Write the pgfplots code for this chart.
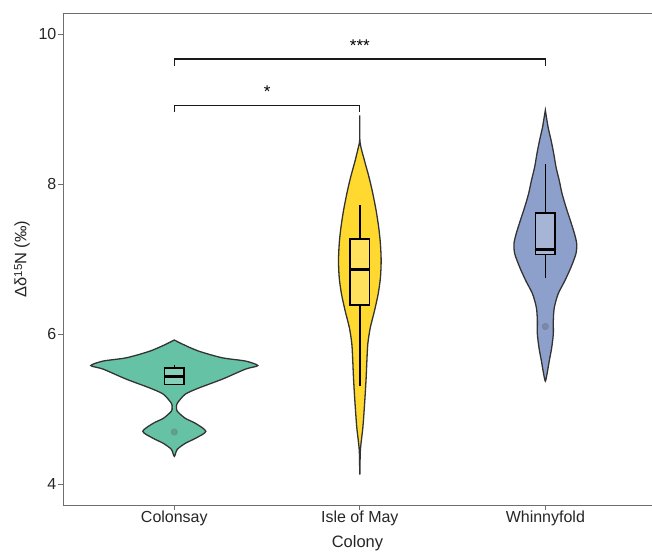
\documentclass[border=0pt]{standalone}
\usepackage{fontspec}
\setmainfont{Liberation Sans}
\usepackage{pgfplots}
\pgfplotsset{compat=1.18}

\definecolor{colgreen}{HTML}{66C2A5}
\definecolor{colyellow}{HTML}{FFD92F}
\definecolor{colblue}{HTML}{8DA0CB}
\definecolor{outline}{HTML}{333333}
\definecolor{frame}{HTML}{6E6E6E}

\begin{document}
\fontsize{16bp}{19bp}\selectfont
\begin{tikzpicture}
\begin{axis}[
  at={(0,0)}, anchor=south west,
  scale only axis,
  width=589bp, height=492bp,
  xmin=0.4, xmax=3.575,
  ymin=3.72, ymax=10.28,
  xtick={1,2,3},
  xticklabels={Colonsay, Isle of May, Whinnyfold},
  ytick={4,6,8,10},
  tick pos=left,
  tick align=outside,
  major tick length=5bp,
  every tick/.style={draw=frame, line width=0.8bp},
  axis line style={draw=frame, line width=0.9bp},
  /pgf/number format/assume math mode=true,
  ticklabel style={font=\fontsize{16bp}{19bp}\selectfont, text=black!85},
  yticklabel style={anchor=east, inner sep=0bp, xshift=-1.5bp},
  xticklabel style={anchor=base, inner sep=0bp, yshift=-12bp},
  xlabel={Colony},
  ylabel={Δδ\raisebox{0.5ex}{\fontsize{11.5bp}{12bp}\selectfont 15}N (‰)},
  label style={font=\fontsize{16.5bp}{19bp}\selectfont, text=black!85},
  xlabel style={at={(axis description cs:0.5,0)}, anchor=center, yshift=-38bp},
  ylabel style={at={(axis description cs:-0.0696,0.5)}, anchor=center},
  clip=false,
]

% violin outlines: half-width about each colony position
\addplot[smooth, tension=0.45, fill=colgreen, draw=outline, line width=1.3bp] coordinates {
  (1,5.920) (1.043,5.866) (1.130,5.773) (1.258,5.683) (1.384,5.639) (1.450,5.579)
  (1.384,5.532) (1.259,5.398) (1.130,5.278) (1.059,5.197) (1.016,5.077) (1.012,5.023)
  (1.016,4.970) (1.059,4.876) (1.114,4.809) (1.170,4.702) (1.114,4.609) (1.059,4.542)
  (1.016,4.462) (1,4.368)
  (0.984,4.462) (0.941,4.542) (0.886,4.609) (0.830,4.702) (0.886,4.809) (0.941,4.876)
  (0.984,4.970) (0.988,5.023) (0.984,5.077) (0.941,5.197) (0.870,5.278) (0.741,5.398)
  (0.616,5.532) (0.550,5.579) (0.616,5.639) (0.742,5.683) (0.870,5.773) (0.957,5.866)
} -- cycle;

\addplot[smooth, tension=0.45, fill=colyellow, draw=outline, line width=1.3bp] coordinates {
  (2,8.916) (2.001,8.560) (2.025,8.314) (2.050,8.087) (2.070,7.873) (2.088,7.645)
  (2.102,7.418) (2.111,7.204) (2.115,6.977) (2.111,6.749) (2.099,6.535) (2.079,6.308)
  (2.056,6.080) (2.043,5.866) (2.038,5.639) (2.034,5.411) (2.029,5.197) (2.023,4.970)
  (2.016,4.743) (2.003,4.450) (2,4.127)
  (1.997,4.450) (1.984,4.743) (1.977,4.970) (1.971,5.197) (1.966,5.411) (1.962,5.639)
  (1.957,5.866) (1.944,6.080) (1.921,6.308) (1.901,6.535) (1.889,6.749) (1.885,6.977)
  (1.889,7.204) (1.898,7.418) (1.912,7.645) (1.930,7.873) (1.950,8.087) (1.975,8.314)
  (1.999,8.560)
} -- cycle;

\addplot[smooth, tension=0.45, fill=colblue, draw=outline, line width=1.3bp] coordinates {
  (3,8.983) (3.015,8.756) (3.031,8.582) (3.045,8.408) (3.058,8.221) (3.075,8.047)
  (3.090,7.873) (3.112,7.686) (3.135,7.512) (3.157,7.338) (3.169,7.204) (3.165,7.070)
  (3.137,6.883) (3.105,6.709) (3.069,6.535) (3.048,6.348) (3.043,6.174) (3.043,6.000)
  (3.034,5.813) (3.021,5.639) (3.009,5.465) (3,5.371)
  (2.991,5.465) (2.979,5.639) (2.966,5.813) (2.957,6.000) (2.957,6.174) (2.952,6.348)
  (2.931,6.535) (2.895,6.709) (2.863,6.883) (2.835,7.070) (2.831,7.204) (2.843,7.338)
  (2.865,7.512) (2.888,7.686) (2.910,7.873) (2.925,8.047) (2.942,8.221) (2.955,8.408)
  (2.969,8.582) (2.985,8.756)
} -- cycle;

% box plots: whiskers, boxes (quartiles) and medians
% Colonsay
\addplot[black, line width=1.6bp] coordinates {(1,5.550) (1,5.585)};
\addplot[black, line width=1.6bp, fill=colgreen!78!white] coordinates {
  (0.9473,5.327) (1.0527,5.327) (1.0527,5.550) (0.9473,5.550)} -- cycle;
\addplot[black, line width=2.8bp] coordinates {(0.9473,5.438) (1.0527,5.438)};
% Isle of May
\addplot[black, line width=1.6bp] coordinates {(2,7.267) (2,7.722)};
\addplot[black, line width=1.6bp] coordinates {(2,5.304) (2,6.384)};
\addplot[black, line width=1.6bp, fill=colyellow!78!white] coordinates {
  (1.9473,6.384) (2.0527,6.384) (2.0527,7.267) (1.9473,7.267)} -- cycle;
\addplot[black, line width=2.8bp] coordinates {(1.9473,6.856) (2.0527,6.856)};
% Whinnyfold
\addplot[black, line width=1.6bp] coordinates {(3,7.610) (3,8.270)};
\addplot[black, line width=1.6bp] coordinates {(3,6.750) (3,7.060)};
\addplot[black, line width=1.6bp, fill=colblue!78!white] coordinates {
  (2.9473,7.060) (3.0527,7.060) (3.0527,7.610) (2.9473,7.610)} -- cycle;
\addplot[black, line width=2.8bp] coordinates {(2.9473,7.125) (3.0527,7.125)};

% outliers
\addplot[only marks, mark=*, mark size=3.3bp, color=black!65, opacity=0.32] coordinates {
  (1,4.693) (3,6.100)
};

% significance brackets
\addplot[black!90, line width=1.3bp] coordinates {(1,9.57) (1,9.665) (3,9.665) (3,9.57)};
\addplot[black!90, line width=1.3bp] coordinates {(1,8.96) (1,9.05) (2,9.05) (2,8.96)};
\node[font=\fontsize{17bp}{19bp}\selectfont] at (axis cs:2,9.85) {***};
\node[font=\fontsize{17bp}{19bp}\selectfont] at (axis cs:1.5,9.23) {*};

% right and top frame
\draw[frame, line width=0.9bp] (rel axis cs:0,1) -- (rel axis cs:1,1) -- (rel axis cs:1,0);
\end{axis}
\pgfresetboundingbox
\useasboundingbox (-63bp,-49bp) rectangle (589bp,505bp);
\end{tikzpicture}
\end{document}
